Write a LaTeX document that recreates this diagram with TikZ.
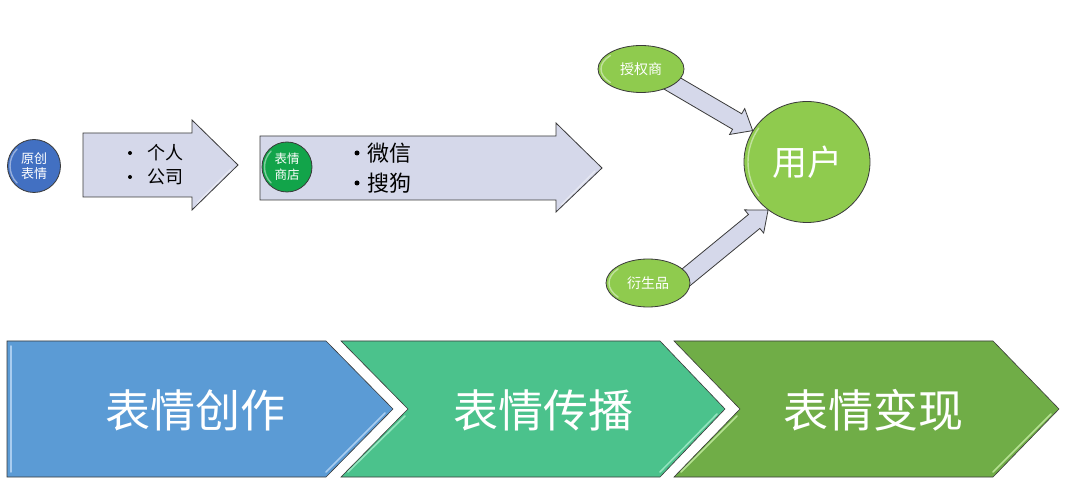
\documentclass[tikz,border=0pt]{standalone}
\usepackage{fontspec}
\setmainfont{Noto Sans CJK SC}
\usetikzlibrary{calc,shapes.geometric}
\pgfdeclarelayer{background}
\pgfsetlayers{background,main}
\definecolor{outl}{HTML}{3A3A3A}
\definecolor{arrowfill}{HTML}{D5D8EA}
\definecolor{blueC}{HTML}{4270C2}
\definecolor{greenC}{HTML}{12A44A}
\definecolor{limeC}{HTML}{8FCB4E}
\definecolor{chevA}{HTML}{5B9BD5}
\definecolor{chevB}{HTML}{4BC28C}
\definecolor{chevC}{HTML}{70AD47}
\definecolor{glossA}{HTML}{A9CDF0}
\definecolor{glossB}{HTML}{95E5C0}
\definecolor{glossC}{HTML}{B8E394}
\tikzset{
  topbox/.style={draw=outl, line width=0.8pt, fill=arrowfill},
  bubble/.style={circle, draw=outl, line width=0.8pt, text=white, inner sep=0pt, align=center},
  oval/.style={ellipse, draw=outl, line width=0.8pt, fill=limeC, text=white, inner sep=0pt},
  chev/.style={draw=outl, line width=0.6pt},
  chevtext/.style={text=white, inner sep=0pt, font=\fontsize{45}{50}\selectfont},
  gloss/.style={white, opacity=0.45, line width=1.4pt, line cap=round},
  dot/.style={circle, fill=black, inner sep=0pt},
  listtext/.style={anchor=west, inner sep=0pt, text=black}
}
\newcommand{\blockarr}[2]{%
  \path ($(#2)!18pt!(#1)$) coordinate (hb);
  \draw[topbox] ($(#1)!9pt!90:(#2)$) -- ($(hb)!9pt!90:(#2)$) -- ($(hb)!15pt!90:(#2)$) -- (#2)
     -- ($(hb)!15pt!-90:(#2)$) -- ($(hb)!9pt!-90:(#2)$) -- ($(#1)!9pt!-90:(#2)$) -- cycle;
}
\begin{document}
\begin{tikzpicture}[x=1pt,y=-1pt]
\useasboundingbox (0,0) rectangle (1080,497);

% ---- top block arrows ----
\draw[topbox] (83,133) -- (192,133) -- (192,120) -- (238,165) -- (192,210) -- (192,197) -- (83,197) -- cycle;
\draw[gloss] (197,203) -- (231,169);
\draw[topbox] (260,136) -- (556,136) -- (556,123) -- (602,168) -- (556,212) -- (556,200) -- (260,200) -- cycle;
\draw[gloss] (561,205) -- (595,171);

% ---- circles ----
\node[bubble, fill=blueC, minimum size=53pt, font=\fontsize{13}{15}\selectfont] (yc) at (34,166) {原创\\表情};
\draw[gloss] ($(yc.center)+(135:24pt)$) arc[start angle=135, end angle=225, radius=24pt];
\node[bubble, fill=greenC, minimum size=50pt, font=\fontsize{12.5}{16}\selectfont] (sd) at (287,167) {表情\\商店};
\draw[gloss] ($(sd.center)+(135:22.5pt)$) arc[start angle=135, end angle=225, radius=22.5pt];

% ---- list texts ----
\node[dot, minimum size=4pt] (d1) at (130,153) {};
\node[dot, minimum size=4pt] (d2) at (130,177) {};
\node[listtext, font=\fontsize{18}{20}\selectfont] (p1) at (147,153) {个人};
\node[listtext, font=\fontsize{18}{20}\selectfont] (p2) at (147,177) {公司};
\node[dot, minimum size=5pt] (d3) at (357,153) {};
\node[dot, minimum size=5pt] (d4) at (357,183) {};
\node[listtext, font=\fontsize{22}{24}\selectfont] (p3) at (367,153) {微信};
\node[listtext, font=\fontsize{22}{24}\selectfont] (p4) at (367,183) {搜狗};

% ---- right cluster ----
\node[oval, minimum width=86pt, minimum height=47pt, font=\fontsize{14}{16}\selectfont] (sq) at (641,69) {授权商};
\node[oval, minimum width=84pt, minimum height=48pt, font=\fontsize{14}{16}\selectfont] (ys) at (648,283) {衍生品};
\node[oval, minimum width=126pt, minimum height=121pt, font=\fontsize{35}{40}\selectfont] (yh) at (807,162) {用户};
\draw[gloss] ($(yh.center)+(145:59pt)$) arc[start angle=145, end angle=215, radius=59pt];
\draw[gloss] ($(sq.center)+(140:40pt and 21pt)$) arc[start angle=140, end angle=220, x radius=40pt, y radius=21pt];
\draw[gloss] ($(ys.center)+(140:39pt and 22pt)$) arc[start angle=140, end angle=220, x radius=39pt, y radius=22pt];

\begin{pgfonlayer}{background}
  \fill[white] (0,0) rectangle (1080,497);
  \coordinate (sqT) at (668,81);
  \coordinate (P1) at (yh.150);
  \blockarr{sqT}{P1}
  \coordinate (ysT) at (684,279);
  \coordinate (P2) at (yh.231);
  \blockarr{ysT}{P2}
\end{pgfonlayer}

% ---- bottom chevrons ----
\draw[chev, fill=chevA] (7,341) -- (326,341) -- (393,409) -- (326,477) -- (7,477) -- cycle;
\draw[chev, fill=chevB] (341,341) -- (660,341) -- (725,409) -- (660,477) -- (341,477) -- (408,409) -- cycle;
\draw[chev, fill=chevC] (674,341) -- (993,341) -- (1059,409) -- (993,477) -- (674,477) -- (740,409) -- cycle;
\draw[glossA, line width=1.5pt, line cap=round] (11,346) -- (11,472);
\draw[glossA, line width=1.5pt, line cap=round] (326,472) -- (385,413);
\draw[glossB, line width=1.5pt, line cap=round] (348,472) -- (405,416);
\draw[glossB, line width=1.5pt, line cap=round] (660,472) -- (717,414);
\draw[glossC, line width=1.5pt, line cap=round] (681,472) -- (737,416);
\draw[glossC, line width=1.5pt, line cap=round] (993,472) -- (1051,414);

\node[chevtext] (c1) at (195,410) {表情创作};
\node[chevtext] (c2) at (543,410) {表情传播};
\node[chevtext] (c3) at (873,410) {表情变现};
\end{tikzpicture}
\end{document}
